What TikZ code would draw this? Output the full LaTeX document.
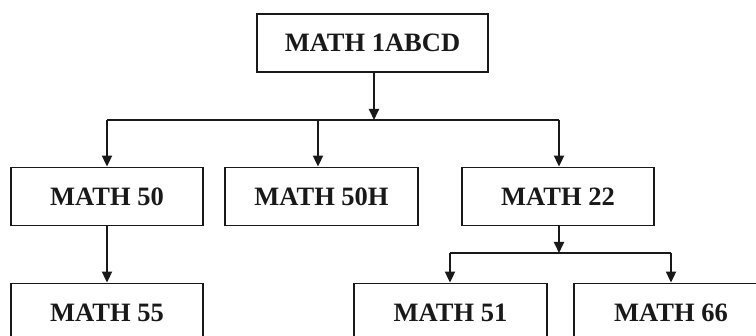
\documentclass[tikz,border=0pt]{standalone}
\usepackage{fontspec}
\setmainfont{Liberation Serif}
\usetikzlibrary{arrows.meta}
\begin{document}
\begin{tikzpicture}[x=1pt,y=-1pt,
  box/.style={draw=black!90, line width=1.8pt, minimum width=192pt, minimum height=58pt, inner sep=0pt,
    font=\fontsize{26.5}{30}\selectfont\bfseries, text=black!90},
  arr/.style={draw=black!90, line width=1.8pt, -{Triangle[length=11pt,width=10pt]}},
  ln/.style={draw=black!90, line width=1.8pt}]
\useasboundingbox (0,0) rectangle (756,336);
\clip (0,0) rectangle (756,336);
\node[box, minimum width=231pt] (top) at (372.5,43) {MATH 1ABCD};
\node[box] (m50) at (107,196.5) {MATH 50};
\node[box, minimum width=193pt] (m50h) at (321.5,196.5) {MATH 50H};
\node[box] (m22) at (558,196.5) {MATH 22};
\node[box] (m55) at (107,312.5) {MATH 55};
\node[box, minimum width=193pt] (m51) at (450.5,312.5) {MATH 51};
\node[box, minimum width=194pt] (m66) at (671,312.5) {MATH 66};
% first bus
\coordinate (b0) at (374,120);
\coordinate (bl) at (107,120);
\coordinate (bm) at (318,120);
\coordinate (br) at (559,120);
\draw[arr] (top.south -| b0) -- (b0);
\draw[ln] (bl) -- (br);
\draw[arr] (bl) -- (bl |- m50.north);
\draw[arr] (bm) -- (bm |- m50h.north);
\draw[arr] (br) -- (br |- m22.north);
% second bus
\coordinate (c0) at (559,253);
\coordinate (cl) at (450,253);
\coordinate (cr) at (671,253);
\draw[arr] (m22.south -| c0) -- (c0);
\draw[ln] (cl) -- (cr);
\draw[arr] (cl) -- (cl |- m51.north);
\draw[arr] (cr) -- (cr |- m66.north);
% MATH 50 to MATH 55
\draw[arr] (m50.south) -- (m55.north);
\end{tikzpicture}
\end{document}
